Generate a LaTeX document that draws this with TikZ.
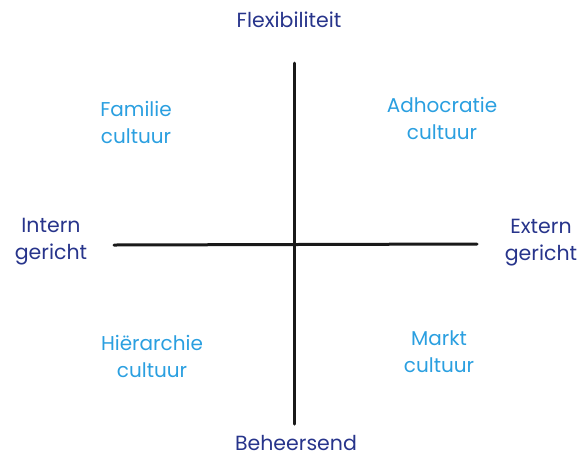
\documentclass[tikz,border=0pt]{standalone}
\usepackage{fontspec}
\setmainfont{Poppins}
\definecolor{navy}{HTML}{27348B}
\definecolor{lblue}{HTML}{2A9FE0}
\begin{document}
\begin{tikzpicture}[x=1pt,y=-1pt,
  axislbl/.style={text=navy,font=\fontsize{20.5}{27}\selectfont,align=center,inner sep=0pt},
  quadlbl/.style={text=lblue,font=\fontsize{20}{27}\selectfont,align=center,inner sep=0pt},
  axis/.style={line width=3pt,black!90,line cap=round}]
\useasboundingbox (0,0) rectangle (581,459);
\coordinate (top) at (294,63);
\coordinate (bot) at (294,424);
\coordinate (lft) at (114,245);
\coordinate (rgt) at (477,244);
\draw[axis] (top) -- (bot);
\draw[axis] (lft) -- (rgt);
\node[axislbl] (flex) at (289,20) {Flexibiliteit};
\node[axislbl] (beh) at (296,443) {Beheersend};
\node[axislbl] (int) at (51,242) {Intern\\gericht};
\node[axislbl] (ext) at (541,243) {Extern\\gericht};
\node[quadlbl] (fam) at (136,122) {Familie\\cultuur};
\node[quadlbl] (adh) at (442,118) {Adhocratie\\cultuur};
\node[quadlbl] (hie) at (152,356) {Hiërarchie\\cultuur};
\node[quadlbl] (mar) at (439,352) {Markt\\cultuur};
\end{tikzpicture}
\end{document}
